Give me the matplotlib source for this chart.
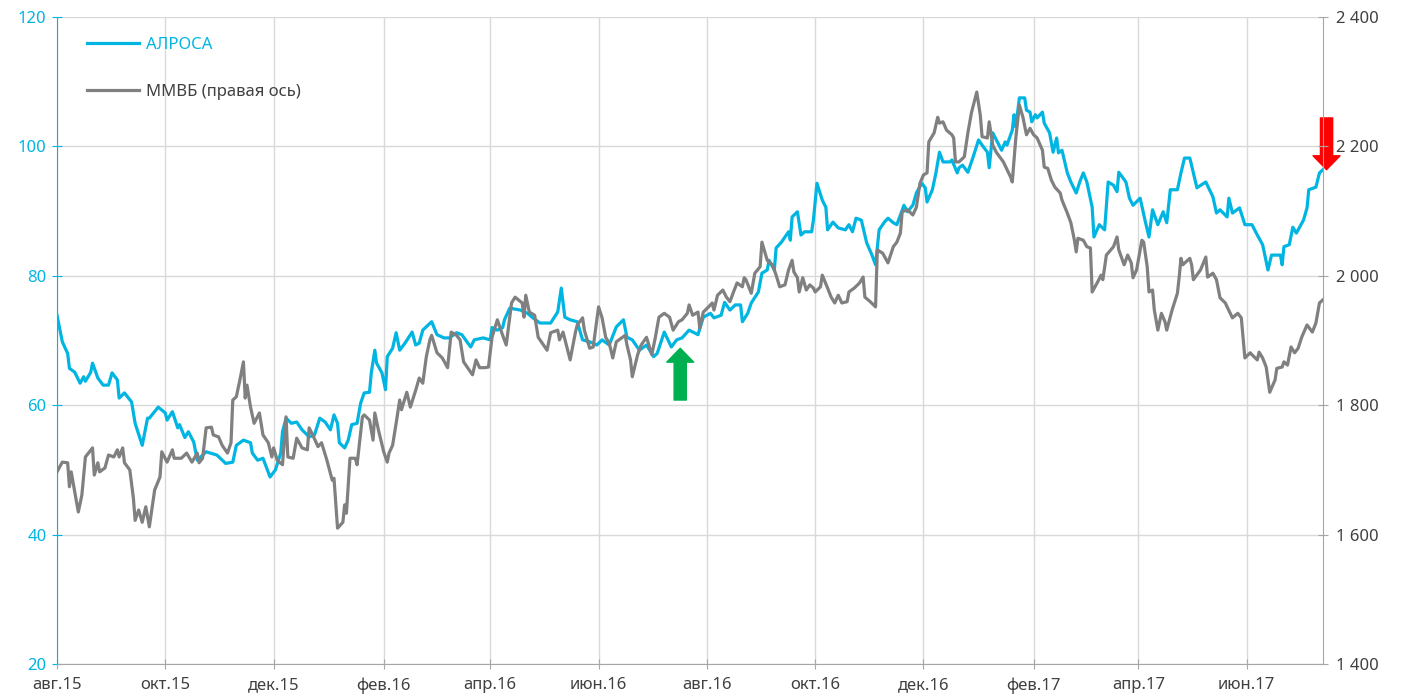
import matplotlib
matplotlib.use("Agg")
import matplotlib.pyplot as plt
import matplotlib.dates as mdates
from matplotlib.patches import FancyArrowPatch
from matplotlib.ticker import FuncFormatter, MultipleLocator
import pandas as pd

# days since 2015-08-01
alrosa_days = [0, 3, 6, 7, 10, 13, 15, 16, 19, 20, 23, 26, 29, 31, 34, 35, 38, 42, 44, 48,
               51, 52, 57, 61, 62, 65, 68, 69, 72, 74, 77, 79, 84, 90, 95, 99, 101, 105, 109, 110,
               113, 116, 120, 123, 126, 127, 129, 132, 135, 138, 142, 145, 148, 151, 154, 156, 158, 159, 162, 164,
               166, 169, 171, 173, 176, 177, 179, 180, 183, 185, 186, 189, 191, 193, 196, 200, 202, 204, 206, 211,
               214, 218, 221, 225, 228, 233, 235, 240, 244, 245, 248, 251, 252, 255, 261, 265, 268, 272, 278, 282,
               284, 286, 289, 293, 296, 300, 304, 307, 311, 315, 319, 321, 324, 328, 332, 336, 338, 342, 346, 349,
               352, 356, 361, 364, 368, 370, 374, 376, 379, 382, 385, 386, 389, 391, 395, 397, 400, 401, 404, 405,
               408, 410, 412, 413, 414, 417, 419, 421, 425, 426, 428, 431, 433, 434, 437, 440, 444, 446, 448, 450,
               453, 456, 459, 461, 463, 466, 468, 471, 473, 477, 479, 482, 484, 487, 489, 490, 493, 495, 497, 499,
               503, 504, 507, 508, 510, 513, 516, 519, 521, 524, 525, 527, 530, 532, 534, 535, 538, 539, 540, 542,
               545, 546, 548, 549, 551, 552, 555, 556, 559, 561, 563, 564, 566, 569, 571, 574, 576, 578, 580, 583,
               584, 587, 590, 592, 595, 597, 598, 602, 604, 606, 610, 613, 615, 617, 620, 623, 625, 627, 631, 633,
               635, 638, 642, 647, 651, 653, 655, 659, 660, 662, 666, 669, 673, 676, 679, 682, 684, 689, 690, 691,
               694, 696, 698, 702, 704, 705, 709, 711, 713]
alrosa = [73.9, 69.8, 68.0, 65.7, 65.1, 63.4, 64.4, 63.7, 65.1, 66.5, 64.2, 63.1, 63.1, 65.0, 63.9, 61.1, 61.9, 60.5, 57.2, 53.8,
          58.0, 58.0, 59.7, 58.8, 57.7, 59.0, 56.5, 57.0, 55.0, 55.9, 54.3, 51.5, 52.8, 52.3, 51.0, 51.2, 53.8, 54.6, 54.2, 52.6,
          51.5, 51.8, 48.9, 50.0, 52.6, 55.9, 58.0, 57.2, 57.4, 56.2, 55.1, 55.4, 58.0, 57.4, 56.2, 58.5, 57.2, 54.2, 53.4, 54.6,
          57.0, 57.2, 60.3, 61.9, 62.0, 65.0, 68.5, 66.5, 65.0, 62.4, 67.5, 68.8, 71.2, 68.5, 69.6, 71.3, 69.3, 69.6, 71.6, 72.9,
          70.9, 70.4, 70.4, 71.2, 70.9, 69.0, 70.1, 70.4, 70.1, 72.0, 71.6, 72.0, 73.2, 75.0, 74.7, 74.2, 73.5, 72.7, 72.7, 74.4,
          78.1, 73.6, 73.2, 72.9, 70.1, 69.8, 69.3, 70.1, 69.3, 72.1, 73.2, 70.5, 70.1, 68.5, 69.3, 67.5, 68.0, 71.3, 69.0, 70.1,
          70.4, 71.6, 70.9, 73.6, 74.2, 73.5, 73.9, 75.9, 74.7, 75.5, 75.5, 72.9, 74.2, 75.8, 77.5, 80.4, 80.9, 82.4, 80.9, 84.3,
          85.2, 86.0, 86.8, 85.5, 89.1, 89.9, 86.3, 86.8, 86.8, 88.6, 94.3, 91.7, 90.6, 87.1, 88.3, 87.4, 87.1, 87.9, 86.8, 88.9,
          88.6, 85.1, 83.2, 81.7, 87.1, 88.3, 88.9, 88.2, 87.9, 90.9, 89.9, 90.9, 92.8, 94.3, 93.6, 91.4, 93.3, 95.9, 99.1, 97.6,
          97.6, 97.9, 95.9, 96.7, 97.1, 96.0, 98.4, 101.0, 100.2, 99.1, 96.7, 102.1, 100.5, 99.4, 100.7, 100.2, 102.5, 104.9, 103.0, 107.5,
          107.5, 105.6, 105.3, 103.8, 104.9, 104.4, 105.3, 103.6, 102.1, 99.1, 101.3, 99.0, 99.4, 95.9, 94.5, 92.8, 94.5, 95.9, 94.5, 90.6,
          86.0, 87.9, 87.1, 94.5, 94.0, 93.0, 96.0, 94.5, 92.0, 90.9, 92.0, 88.3, 86.0, 90.2, 87.9, 89.9, 88.2, 93.3, 93.3, 95.9,
          98.2, 98.2, 93.6, 94.5, 92.2, 89.7, 90.2, 89.1, 92.0, 89.7, 90.5, 87.9, 87.9, 86.3, 84.8, 80.9, 83.2, 83.2, 81.7, 84.5,
          84.8, 87.5, 86.6, 88.6, 90.5, 93.3, 93.7, 95.9, 96.4]

micex_days = [0, 3, 6, 7, 8, 10, 12, 14, 16, 20, 21, 23, 24, 27, 29, 32, 34, 35, 37, 38,
              41, 43, 44, 46, 48, 50, 52, 55, 58, 59, 62, 65, 66, 70, 73, 76, 79, 80, 82, 84,
              87, 88, 91, 93, 96, 98, 99, 101, 103, 105, 106, 107, 109, 111, 114, 116, 119, 121, 122, 124,
              127, 129, 130, 133, 135, 138, 141, 142, 144, 147, 149, 152, 155, 156, 158, 161, 162, 163, 165, 168,
              169, 172, 173, 176, 178, 179, 181, 184, 186, 187, 189, 191, 193, 194, 197, 199, 202, 204, 206, 208,
              210, 211, 214, 217, 220, 222, 225, 227, 229, 234, 236, 238, 241, 243, 245, 248, 251, 253, 256, 258,
              262, 263, 264, 266, 269, 271, 276, 278, 282, 283, 285, 289, 292, 293, 296, 297, 300, 302, 305, 307,
              309, 311, 313, 315, 318, 320, 321, 323, 324, 327, 329, 332, 335, 337, 339, 342, 345, 347, 350, 352,
              355, 356, 358, 361, 362, 364, 367, 369, 370, 372, 375, 377, 379, 381, 383, 386, 387, 388, 391, 393,
              396, 397, 400, 401, 403, 405, 407, 410, 412, 414, 415, 417, 418, 420, 422, 424, 426, 427, 430, 431,
              434, 436, 438, 440, 442, 445, 446, 449, 452, 454, 455, 458, 461, 462, 465, 468, 471, 473, 475, 476,
              479, 482, 484, 486, 488, 490, 491, 494, 496, 497, 499, 501, 504, 505, 506, 508, 511, 513, 515, 518,
              520, 521, 524, 525, 527, 529, 533, 537, 538, 539, 540, 542, 544, 546, 548, 550, 552, 555, 556, 558,
              560, 562, 565, 566, 569, 571, 573, 574, 575, 578, 580, 582, 583, 586, 588, 589, 591, 595, 597, 598,
              601, 603, 605, 606, 608, 611, 612, 614, 615, 617, 618, 620, 622, 624, 625, 628, 631, 632, 633, 634,
              638, 639, 640, 644, 647, 648, 651, 653, 655, 658, 659, 662, 665, 667, 669, 672, 673, 676, 677, 679,
              681, 683, 686, 687, 690, 691, 693, 695, 697, 699, 701, 704, 707, 709, 711, 713]
micex = [1697, 1712, 1711, 1674, 1697, 1666, 1635, 1661, 1720, 1734, 1692, 1711, 1697, 1703, 1723, 1720, 1731, 1720, 1734, 1711,
         1700, 1657, 1622, 1638, 1619, 1643, 1612, 1669, 1689, 1728, 1712, 1731, 1718, 1718, 1726, 1712, 1726, 1711, 1718, 1765,
         1766, 1754, 1751, 1738, 1726, 1742, 1808, 1813, 1839, 1867, 1811, 1831, 1797, 1772, 1788, 1754, 1742, 1720, 1734, 1715,
         1708, 1782, 1720, 1718, 1749, 1734, 1731, 1765, 1754, 1736, 1742, 1715, 1684, 1687, 1610, 1619, 1646, 1633, 1718, 1718,
         1708, 1782, 1785, 1777, 1746, 1788, 1762, 1728, 1712, 1726, 1738, 1772, 1808, 1793, 1820, 1797, 1823, 1842, 1834, 1875,
         1901, 1908, 1881, 1873, 1858, 1913, 1908, 1901, 1867, 1847, 1870, 1858, 1858, 1859, 1905, 1932, 1908, 1893, 1958, 1967,
         1958, 1936, 1970, 1944, 1939, 1905, 1885, 1912, 1916, 1901, 1913, 1870, 1913, 1924, 1935, 1916, 1888, 1890, 1952, 1935,
         1905, 1896, 1873, 1898, 1904, 1908, 1893, 1870, 1844, 1878, 1893, 1905, 1878, 1905, 1936, 1942, 1936, 1916, 1929, 1932,
         1942, 1955, 1939, 1944, 1919, 1944, 1952, 1958, 1947, 1970, 1978, 1967, 1960, 1975, 1989, 1983, 1997, 1994, 1973, 2004,
         2014, 2052, 2024, 2021, 2017, 2001, 1983, 1986, 2009, 2024, 2006, 1997, 1975, 1997, 1978, 1986, 1981, 1975, 1983, 2001,
         1981, 1967, 1958, 1970, 1958, 1960, 1975, 1981, 1989, 1998, 1967, 1960, 1952, 2040, 2035, 2020, 2045, 2052, 2066, 2099,
         2102, 2094, 2106, 2143, 2156, 2159, 2207, 2221, 2245, 2236, 2238, 2225, 2218, 2213, 2176, 2176, 2184, 2221, 2252, 2284,
         2248, 2215, 2213, 2238, 2202, 2191, 2176, 2153, 2145, 2179, 2213, 2264, 2245, 2218, 2228, 2218, 2213, 2194, 2168, 2166,
         2148, 2137, 2128, 2117, 2097, 2082, 2055, 2037, 2058, 2055, 2045, 2043, 1975, 1990, 2001, 1994, 2032, 2045, 2060, 2040,
         2017, 2032, 2020, 1997, 2009, 2055, 2052, 2014, 1975, 1978, 1947, 1916, 1942, 1929, 1916, 1947, 1973, 1998, 2027, 2017,
         2027, 2017, 1994, 2009, 2029, 1998, 2004, 1994, 1966, 1958, 1952, 1935, 1942, 1935, 1873, 1881, 1878, 1870, 1882, 1873,
         1859, 1820, 1839, 1857, 1859, 1867, 1862, 1890, 1881, 1888, 1905, 1924, 1913, 1927, 1958, 1963]

start = pd.Timestamp("2015-08-01")
month_names = ["авг.", "окт.", "дек.", "фев.", "апр.", "июн."]
# arrows: (days, value from, value to) on the left axis
green_arrow = (351, 60.8, 68.8)
red_arrow = (715, 104.4, 96.4)

CYAN = "#00b5e2"
GREY = "#808080"
TXT = "#404040"
GRID = "#d9d9d9"

plt.rcParams["font.family"] = ["Noto Sans", "DejaVu Sans"]

fig = plt.figure(figsize=(14.02, 6.96), dpi=100)
ax = fig.add_axes([57 / 1402, 32 / 696, (1323 - 57) / 1402, (664 - 17) / 696])
ax2 = ax.twinx()

d1 = start + pd.to_timedelta(alrosa_days, unit="D")
d2 = start + pd.to_timedelta(micex_days, unit="D")
l1, = ax.plot(d1, alrosa, color=CYAN, lw=2.3, label="АЛРОСА", zorder=3)
l2, = ax2.plot(d2, micex, color=GREY, lw=2.3, label="ММВБ (правая ось)")

ax.set_ylim(20, 120)
ax.yaxis.set_major_locator(MultipleLocator(20))
ax2.set_ylim(1400, 2400)
ax2.yaxis.set_major_locator(MultipleLocator(200))
ax2.yaxis.set_major_formatter(FuncFormatter(lambda v, p: f"{int(v):,}".replace(",", " ")))

ax.set_xlim(start, start + pd.Timedelta(days=713))
ax.xaxis.set_major_locator(mdates.MonthLocator(bymonth=[2, 4, 6, 8, 10, 12]))
ax.xaxis.set_major_formatter(FuncFormatter(
    lambda v, p: month_names[(mdates.num2date(v).month // 2 - 4) % 6] + mdates.num2date(v).strftime("%y")))

ax.grid(True, color=GRID, lw=1)
ax.set_axisbelow(True)
for a in (ax, ax2):
    a.spines["top"].set_visible(False)
ax.spines["left"].set_color(CYAN)
ax.spines["right"].set_visible(False)
ax.spines["bottom"].set_color("#a6a6a6")
ax2.spines["left"].set_visible(False)
ax2.spines["bottom"].set_visible(False)
ax2.spines["right"].set_color("#a6a6a6")

ax.tick_params(axis="y", direction="inout", length=7, color=CYAN, labelcolor=CYAN, labelsize=12, pad=4)
ax.tick_params(axis="x", direction="inout", length=7, color="#a6a6a6", labelcolor=TXT, labelsize=12, pad=6)
ax2.tick_params(axis="y", direction="inout", length=7, color="#a6a6a6", labelcolor=TXT, labelsize=12, pad=6)

leg = ax.legend(handles=[l1, l2], loc="upper left", bbox_to_anchor=(0.012, 0.993), frameon=False,
                fontsize=12, handlelength=3.1, handletextpad=0.45, labelspacing=1.9)
leg.get_texts()[0].set_color(CYAN)
leg.get_texts()[1].set_color(TXT)

for (dd, v0, v1), col in ((green_arrow, "#00b050"), (red_arrow, "#ff0000")):
    xd = mdates.date2num(start + pd.Timedelta(days=dd))
    arr = FancyArrowPatch((xd, v0), (xd, v1), arrowstyle="simple,head_length=0.5,head_width=0.97,tail_width=0.44",
                          mutation_scale=20, color=col, shrinkA=0, shrinkB=0, clip_on=False, zorder=5)
    ax.add_patch(arr)

fig.savefig("out.png", dpi=100)
